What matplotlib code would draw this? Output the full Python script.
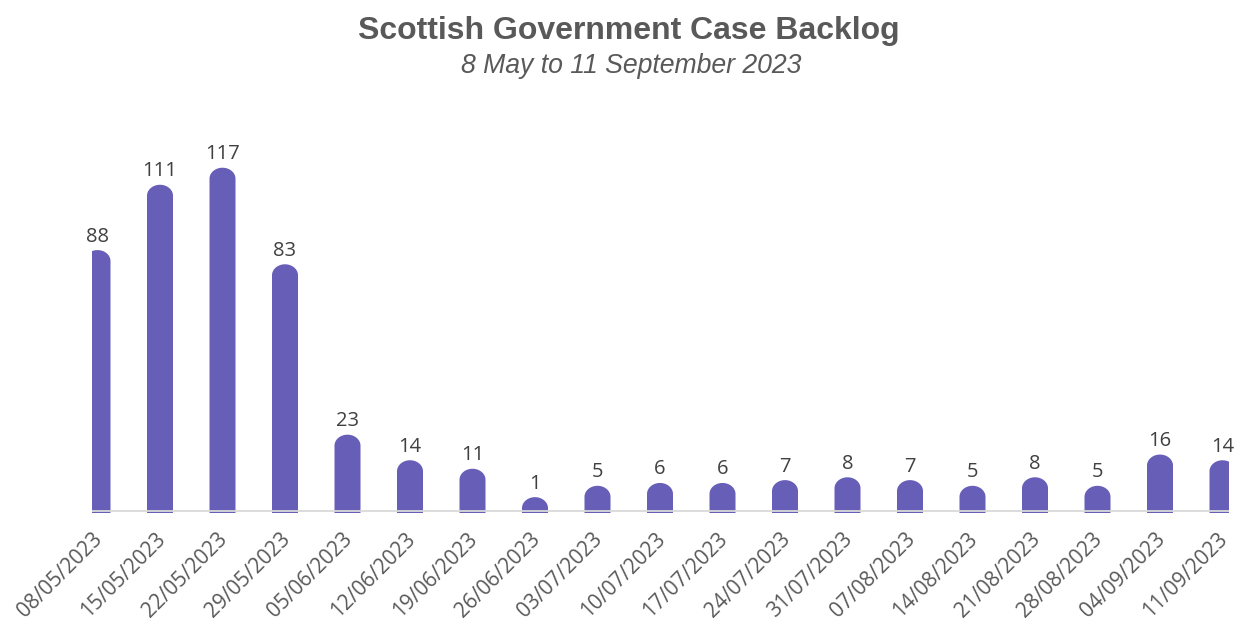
import matplotlib
matplotlib.use("Agg")
import matplotlib.pyplot as plt
import matplotlib.transforms as mtransforms
import numpy as np
from matplotlib.path import Path
from matplotlib.patches import PathPatch

dates = ["08/05/2023", "15/05/2023", "22/05/2023", "29/05/2023", "05/06/2023",
         "12/06/2023", "19/06/2023", "26/06/2023", "03/07/2023", "10/07/2023",
         "17/07/2023", "24/07/2023", "31/07/2023", "07/08/2023", "14/08/2023",
         "21/08/2023", "28/08/2023", "04/09/2023", "11/09/2023"]
backlog = [88, 111, 117, 83, 23, 14, 11, 1, 5, 6, 6, 7, 8, 7, 5, 8, 5, 16, 14]

title = "Scottish Government Case Backlog"
subtitle = "8 May to 11 September 2023"

BAR_COLOR = "#675EB8"
W, H = 1237, 623
fig = plt.figure(figsize=(W / 100, H / 100), dpi=100)

ax_left, ax_right = 92, 1229
ax_bottom_px, ax_top_px = 514, 114  # from top
ax = fig.add_axes([ax_left / W, (H - ax_bottom_px) / H,
                   (ax_right - ax_left) / W, (ax_bottom_px - ax_top_px) / H])

PX_PER_UNIT = 2.84
n = len(backlog)
x = np.arange(n)
ax.set_xlim(-0.088, 18.104)
ymin = -3.0 / PX_PER_UNIT
ymax = ymin + (ax_bottom_px - ax_top_px) / PX_PER_UNIT
ax.set_ylim(ymin, ymax)

fig.canvas.draw()
p0 = ax.transData.transform((0, 0))
p1 = ax.transData.transform((1, 1))
px_y = p1[1] - p0[1]

bw = 0.416
rx = bw / 2
ry = 11.0 / px_y  # rounded cap height (pixels -> data)
base = -2.0 / px_y
t = np.linspace(np.pi, 0, 40)
for xi, h in zip(x, backlog):
    verts = [(xi - rx, base), (xi - rx, h)]
    verts += [(xi + rx * np.cos(a), h + ry * np.sin(a)) for a in t]
    verts += [(xi + rx, base), (xi - rx, base)]
    codes = [Path.MOVETO] + [Path.LINETO] * (len(verts) - 2) + [Path.CLOSEPOLY]
    patch = PathPatch(Path(verts, codes), facecolor=BAR_COLOR, edgecolor="none", zorder=2)
    ax.add_patch(patch)
    ax.annotate(str(h), (xi, h + ry), xytext=(0, 2.5), textcoords="offset points",
                ha="center", va="bottom", fontsize=14.5, color="#404040",
                family="Open Sans", zorder=5)

ax.axhline(0, color="#D9D9D9", lw=1.3, zorder=3)

for s in ax.spines.values():
    s.set_visible(False)
ax.set_yticks([])
ax.set_xticks(x)
ax.set_xticklabels(dates, rotation=45, ha="right", va="center",
                   rotation_mode="anchor", fontsize=15, color="#595959",
                   family="Open Sans")
ax.tick_params(axis="x", length=0, pad=16)
offset = mtransforms.ScaledTranslation(2 / 100, 0, fig.dpi_scale_trans)
for lbl in ax.get_xticklabels():
    lbl.set_transform(lbl.get_transform() + offset)

fig.text(629 / W, 1 - 31 / H, title, ha="center", va="center", fontsize=23,
         fontweight="bold", color="#595959", family="Liberation Sans")
fig.text(631 / W, 1 - 66 / H, subtitle, ha="center", va="center", fontsize=19.2,
         style="italic", color="#595959", family="Liberation Sans")

fig.savefig("out.png", dpi=100)
